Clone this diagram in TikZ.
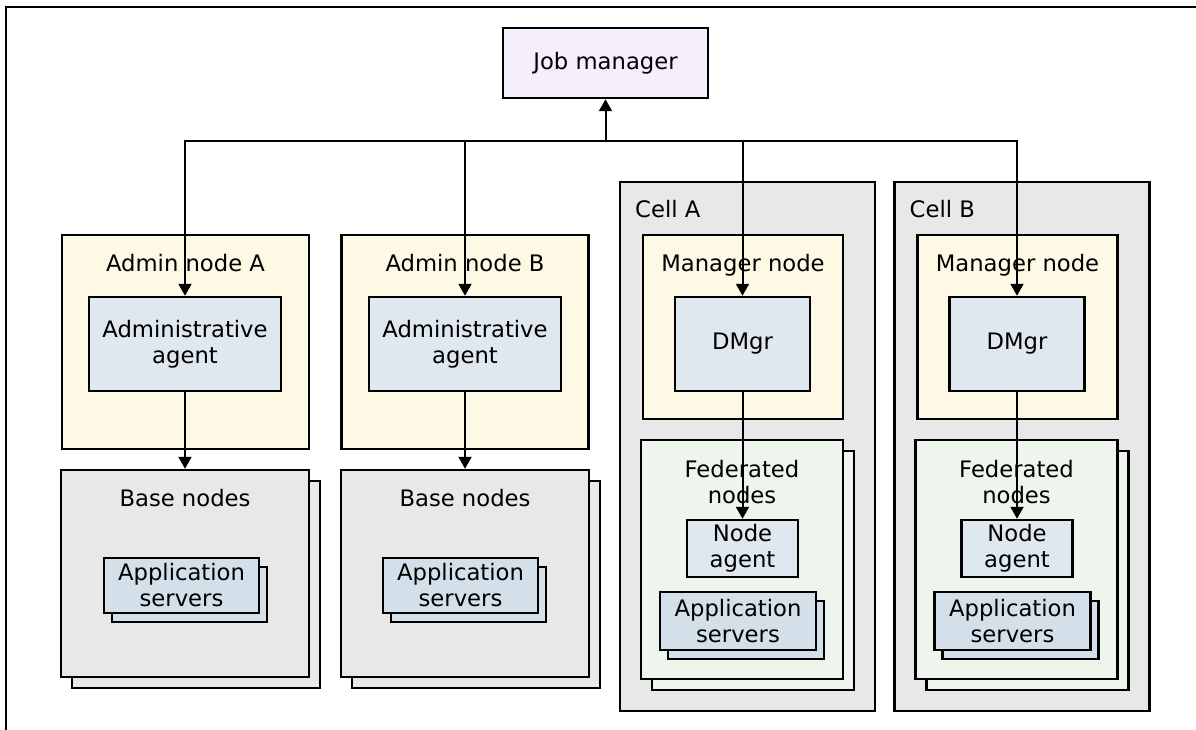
\documentclass[tikz,border=0pt]{standalone}
\usepackage{fontspec}
\setmainfont{DejaVu Sans}
\usetikzlibrary{arrows.meta,shadows}

\definecolor{jobfill}{HTML}{F4EEFD}
\definecolor{hostfill}{HTML}{FEF9E4}
\definecolor{grayfill}{HTML}{E8E8E8}
\definecolor{agentfill}{HTML}{DFE8EF}
\definecolor{appfill}{HTML}{D3E0E9}
\definecolor{fedfill}{HTML}{EDF5EC}

\begin{document}
\begin{tikzpicture}[x=1pt,y=-1pt,
  font=\fontsize{22.7}{26}\selectfont,
  every node/.style={inner sep=0pt},
  box/.style={draw, line width=2.5pt, align=center},
  jobbox/.style={box, fill=jobfill},
  hostbox/.style={box, fill=hostfill},
  cellbox/.style={box, fill=grayfill},
  agentbox/.style={box, fill=agentfill},
  basebox/.style={box, fill=grayfill,
    copy shadow={shadow xshift=11pt, shadow yshift=-11pt, fill=grayfill, draw=black, line width=2.5pt}},
  fedbox/.style={box, fill=fedfill,
    copy shadow={shadow xshift=11pt, shadow yshift=-11pt, fill=fedfill, draw=black, line width=2.5pt}},
  appbox/.style={box, fill=appfill,
    copy shadow={shadow xshift=8pt, shadow yshift=-9pt, fill=appfill, draw=black, line width=2.5pt}},
  arr/.style={line width=2pt, -{Triangle[length=12pt,width=13pt]}}]
  \useasboundingbox (0,0) rectangle (1196,730);

  \draw [line width=2pt] (6,730) -- (6,7) -- (1196,7);

  \node [jobbox, minimum width=205pt, minimum height=70pt] (jobmgr) at (605.5,63) {Job manager};
  \coordinate (bus) at (605.5,141);

  % admin node A
  \node [hostbox, minimum width=247pt, minimum height=214pt] (adminA) at (185.5,342) {};
  \node [anchor=base] (adminAlbl) at (185.5,271) {Admin node A};
  \node [agentbox, minimum width=192pt, minimum height=94pt] (agentA) at (185,344) {Administrative\\agent};
  \node [basebox, minimum width=248pt, minimum height=207pt] (baseA) at (185,573.5) {};
  \node [anchor=base] (baseAlbl) at (185,506) {Base nodes};
  \node [appbox, minimum width=155pt, minimum height=55pt] (appA) at (181.5,585.5) {Application\\servers};

  % admin node B
  \node [hostbox, minimum width=247pt, minimum height=214pt] (adminB) at (465,342) {};
  \node [anchor=base] (adminBlbl) at (465,271) {Admin node B};
  \node [agentbox, minimum width=192pt, minimum height=94pt] (agentB) at (465,344) {Administrative\\agent};
  \node [basebox, minimum width=248pt, minimum height=207pt] (baseB) at (465,573.5) {};
  \node [anchor=base] (baseBlbl) at (465,506) {Base nodes};
  \node [appbox, minimum width=155pt, minimum height=55pt] (appB) at (460.5,585.5) {Application\\servers};

  % cell A
  \node [cellbox, minimum width=255pt, minimum height=529pt] (cellA) at (747.5,446.5) {};
  \node [anchor=base west] (cellAlbl) at (635,217) {Cell A};
  \node [hostbox, minimum width=200pt, minimum height=184pt] (mgrA) at (743,327) {};
  \node [anchor=base] (mgrAlbl) at (743,271) {Manager node};
  \node [agentbox, minimum width=135pt, minimum height=94pt] (dmgrA) at (742.5,344) {DMgr};
  \node [fedbox, minimum width=202pt, minimum height=239pt] (fedA) at (742,559.5) {};
  \node [align=center] (fedAlbl) at (742,482) {Federated\\nodes};
  \node [agentbox, minimum width=111pt, minimum height=57pt] (nagentA) at (742.5,548.5) {Node\\agent};
  \node [appbox, minimum width=156pt, minimum height=58pt] (appsA) at (738,621) {Application\\servers};

  % cell B
  \node [cellbox, minimum width=255pt, minimum height=529pt] (cellB) at (1022,446.5) {};
  \node [anchor=base west] (cellBlbl) at (909.5,217) {Cell B};
  \node [hostbox, minimum width=200pt, minimum height=184pt] (mgrB) at (1017.5,327) {};
  \node [anchor=base] (mgrBlbl) at (1017.5,271) {Manager node};
  \node [agentbox, minimum width=135pt, minimum height=94pt] (dmgrB) at (1017,344) {DMgr};
  \node [fedbox, minimum width=202pt, minimum height=239pt] (fedB) at (1016.5,559.5) {};
  \node [align=center] (fedBlbl) at (1016.5,482) {Federated\\nodes};
  \node [agentbox, minimum width=111pt, minimum height=57pt] (nagentB) at (1017,548.5) {Node\\agent};
  \node [appbox, minimum width=156pt, minimum height=58pt] (appsB) at (1012.5,621) {Application\\servers};

  \draw [arr] (bus) -- (jobmgr);
  \draw [arr] (bus) -| (agentA);
  \draw [arr] (bus) -| (agentB);
  \draw [arr] (bus) -| (dmgrA);
  \draw [arr] (bus) -| (dmgrB);
  \draw [arr] (agentA) -- (baseA);
  \draw [arr] (agentB) -- (baseB);
  \draw [arr] (dmgrA) -- (nagentA);
  \draw [arr] (dmgrB) -- (nagentB);
\end{tikzpicture}
\end{document}
